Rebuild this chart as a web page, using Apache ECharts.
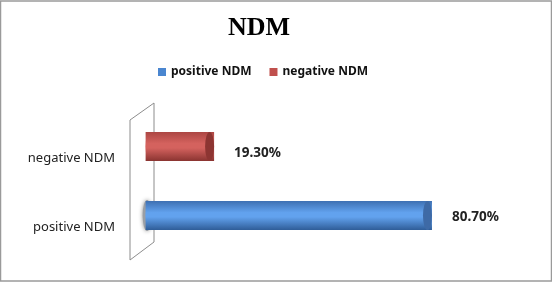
<!DOCTYPE html>
<html>
<head>
<meta charset="utf-8">
<script src="https://cdn.jsdelivr.net/npm/echarts@6/dist/echarts.min.js"></script>
<style>
html,body{margin:0;padding:0;background:#fff;}
#chartNdm{width:552px;height:282px;}
</style>
</head>
<body>
<div id="chartNdm"></div>
<script>
var categories = ['positive NDM', 'negative NDM'];
var positiveVals = [80.7, '-'];
var negativeVals = ['-', 19.3];
var seriesNames = ['positive NDM', 'negative NDM'];

var myChart = echarts.init(document.getElementById('chartNdm'));

function cyl(c0, c1, c2) {
    return new echarts.graphic.LinearGradient(0, 0, 0, 1, [
        {offset: 0, color: c0},
        {offset: 0.4, color: c1},
        {offset: 0.55, color: c1},
        {offset: 1, color: c2}
    ]);
}

var blueFill = cyl('#3e70b2', '#62a2ee', '#2f5d98');
var redFill = cyl('#ac4643', '#d4625e', '#8a3431');

function valueLabel(dy) {
    return {
        show: true,
        position: 'right',
        distance: 20,
        offset: [0, dy],
        fontFamily: 'Noto Sans',
        fontWeight: 'bold',
        fontSize: 13.5,
        color: '#222',
        formatter: function (p) { return p.value.toFixed(2) + '%'; }
    };
}

var option = {
    animation: false,
    title: {
        text: 'NDM',
        left: 223,
        top: 10,
        textStyle: {
            fontFamily: 'Liberation Serif',
            fontWeight: 'bold',
            fontSize: 26,
            color: '#000'
        }
    },
    legend: {
        data: [
            {name: seriesNames[0], itemStyle: {color: '#4a86d0'}},
            {name: seriesNames[1], itemStyle: {color: '#c0504d'}}
        ],
        left: 158,
        top: 66,
        padding: 0,
        icon: 'rect',
        itemWidth: 8,
        itemHeight: 8,
        itemGap: 18,
        textStyle: {
            fontFamily: 'Noto Sans',
            fontWeight: 'bold',
            fontSize: 12,
            color: '#111'
        }
    },
    grid: {
        left: 141,
        right: 48,
        top: 112,
        bottom: 32
    },
    xAxis: {
        type: 'value',
        min: -1.3,
        max: 101,
        show: false
    },
    yAxis: {
        type: 'category',
        data: categories,
        axisLine: {show: false},
        axisTick: {show: false},
        axisLabel: {
            margin: 26,
            verticalAlign: 'top',
            lineHeight: 24,
            fontFamily: 'Noto Sans',
            fontSize: 13,
            color: '#222'
        }
    },
    graphic: [
        {
            type: 'rect',
            z: 0,
            shape: {x: 0.5, y: 1, width: 551, height: 280},
            style: {fill: 'none', stroke: '#9a9a9a', lineWidth: 1.5}
        },
        {
            type: 'polygon',
            z: 0,
            shape: {points: [[130, 120], [154, 103], [154, 242], [130, 260]]},
            style: {fill: 'none', stroke: '#8c8c8c', lineWidth: 1}
        }
    ],
    series: [
        {
            name: seriesNames[0],
            type: 'bar',
            barWidth: 29,
            barGap: '-100%',
            itemStyle: {color: blueFill},
            label: valueLabel(2),
            data: positiveVals
        },
        {
            name: seriesNames[1],
            type: 'bar',
            barWidth: 29,
            barGap: '-100%',
            itemStyle: {color: redFill},
            label: valueLabel(7),
            data: negativeVals
        },
        {
            name: 'posShadow',
            type: 'pictorialBar',
            symbol: 'circle',
            symbolSize: [9, 31],
            symbolPosition: 'start',
            symbolOffset: [-3, 0],
            barGap: '-100%',
            z: 1,
            itemStyle: {color: '#9a9ea4', shadowBlur: 4, shadowColor: 'rgba(0,0,0,0.45)'},
            data: positiveVals
        },
        {
            name: 'posStart',
            type: 'pictorialBar',
            symbol: 'circle',
            symbolSize: [9, 29],
            symbolPosition: 'start',
            barGap: '-100%',
            z: 2,
            itemStyle: {color: blueFill},
            data: positiveVals
        },
        {
            name: 'negStart',
            type: 'pictorialBar',
            symbol: 'circle',
            symbolSize: [9, 29],
            symbolPosition: 'start',
            barGap: '-100%',
            z: 2,
            itemStyle: {color: redFill},
            data: negativeVals
        },
        {
            name: 'posEnd',
            type: 'pictorialBar',
            symbol: 'circle',
            symbolSize: [9, 29],
            symbolPosition: 'end',
            barGap: '-100%',
            z: 3,
            itemStyle: {color: '#3e6aa6'},
            data: positiveVals
        },
        {
            name: 'negEnd',
            type: 'pictorialBar',
            symbol: 'circle',
            symbolSize: [9, 29],
            symbolPosition: 'end',
            barGap: '-100%',
            z: 3,
            itemStyle: {color: '#8d3532'},
            data: negativeVals
        }
    ]
};
myChart.setOption(option);
</script>
</body>
</html>
